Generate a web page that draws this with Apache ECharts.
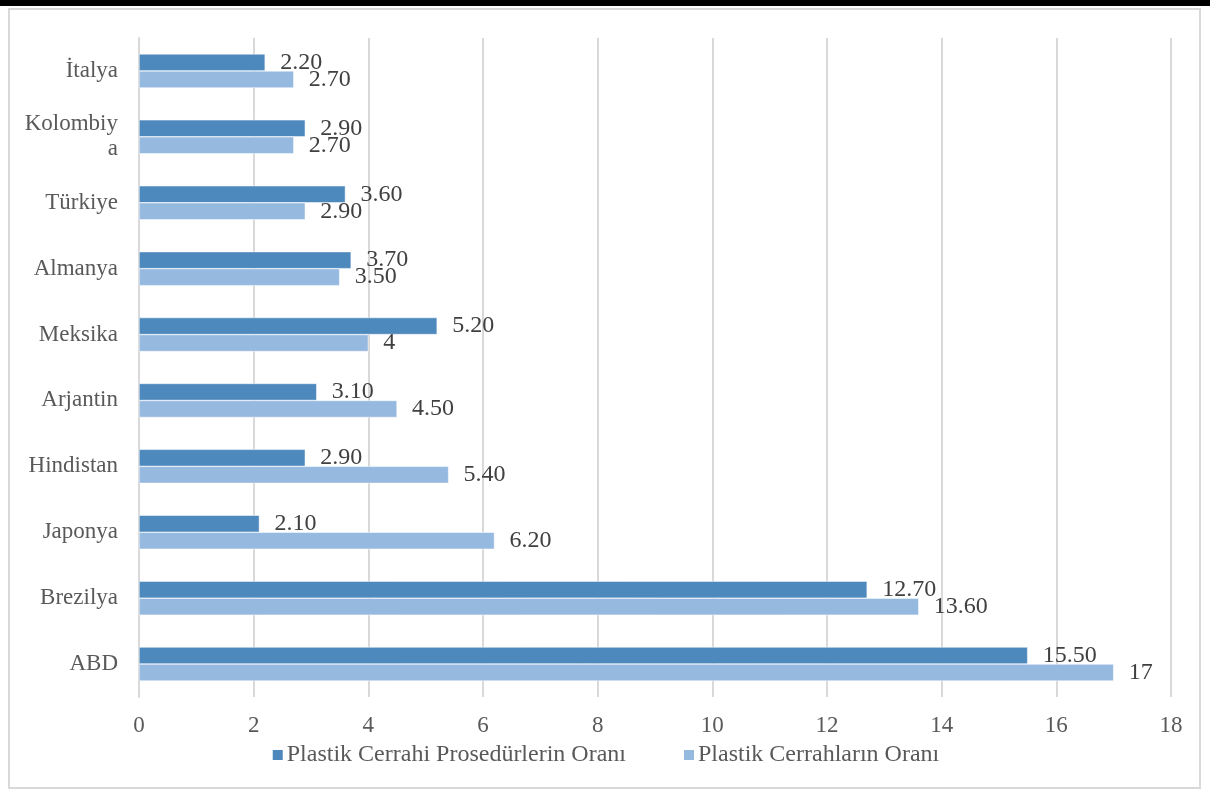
<!DOCTYPE html>
<html>
<head>
<meta charset="utf-8">
<script src="https://cdn.jsdelivr.net/npm/echarts@6/dist/echarts.min.js"></script>
<style>
html,body{margin:0;padding:0;background:#fff;}
#chart{width:1210px;height:789px;}
</style>
</head>
<body>
<div id="chart"></div>
<script>
const categories = ['İtalya','Kolombiya','Türkiye','Almanya','Meksika','Arjantin','Hindistan','Japonya','Brezilya','ABD'];
const prosedurOrani = [2.2, 2.9, 3.6, 3.7, 5.2, 3.1, 2.9, 2.1, 12.7, 15.5];
const cerrahOrani = [2.7, 2.7, 2.9, 3.5, 4.0, 4.5, 5.4, 6.2, 13.6, 17];
const seriesNames = ['Plastik Cerrahi Prosedürlerin Oranı','Plastik Cerrahların Oranı'];
const xTicks = {min:0, max:18, interval:2};

const FONT = '"Liberation Serif", "Times New Roman", serif';
const fmt = p => Number.isInteger(p.value) ? String(p.value) : p.value.toFixed(2);

const chart = echarts.init(document.getElementById('chart'), null, {renderer:'canvas'});
chart.setOption({
  animation:false,
  textStyle:{fontFamily:FONT},
  graphic:[
    {type:'rect', shape:{x:0,y:0,width:1210,height:6}, style:{fill:'#000'}, z:-1},
    {type:'rect', shape:{x:9,y:9,width:1191,height:779}, style:{fill:'none', stroke:'#d9d9d9', lineWidth:2}, z:-1}
  ],
  grid:{left:139, right:39, top:38, bottom:92, containLabel:false},
  legend:{
    top:738, left:'center',
    itemWidth:12, itemHeight:12, icon:'rect', itemGap:56,
    textStyle:{fontFamily:FONT, fontSize:24, color:'#595959', padding:[0,0,0,-2]},
    data:seriesNames
  },
  xAxis:{
    type:'value', min:xTicks.min, max:xTicks.max, interval:xTicks.interval,
    axisLine:{show:false}, axisTick:{show:false},
    axisLabel:{fontFamily:FONT, fontSize:23, color:'#595959', margin:17},
    splitLine:{lineStyle:{color:'#d9d9d9', width:2}}
  },
  yAxis:{
    type:'category', data:categories, inverse:true,
    axisLine:{show:true, lineStyle:{color:'#d9d9d9', width:2}},
    axisTick:{show:false},
    axisLabel:{fontFamily:FONT, fontSize:23, color:'#595959', margin:21,
      width:100, overflow:'breakAll', lineHeight:25}
  },
  series:[
    {
      name:seriesNames[0], type:'bar', data:prosedurOrani,
      barWidth:17, barGap:'0%',
      itemStyle:{color:'#4e89bd', borderColor:'#ffffff', borderWidth:0.5},
      label:{show:true, position:'right', distance:15, formatter:fmt,
        fontFamily:FONT, fontSize:24, color:'#404040'}
    },
    {
      name:seriesNames[1], type:'bar', data:cerrahOrani,
      barWidth:17, barGap:'0%',
      itemStyle:{color:'#96b9e0', borderColor:'#ffffff', borderWidth:0.5},
      label:{show:true, position:'right', distance:15, formatter:fmt,
        fontFamily:FONT, fontSize:24, color:'#404040'}
    }
  ]
});
</script>
</body>
</html>
